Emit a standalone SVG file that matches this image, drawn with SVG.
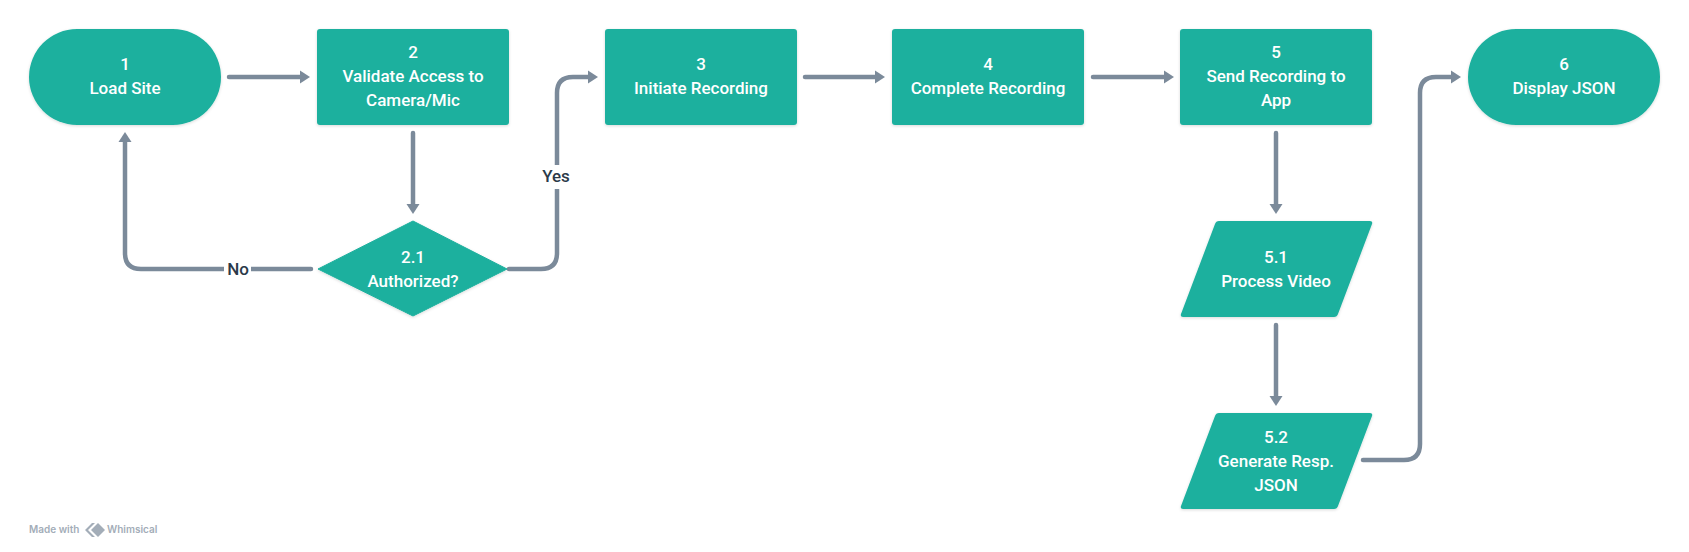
<svg xmlns="http://www.w3.org/2000/svg" width="1689" height="552" viewBox="0 0 1689 552">
<style>
.n{fill:#1cb09e;filter:url(#s)}
.t{font-family:Roboto,"Noto Sans",sans-serif;font-size:17px;font-weight:500;fill:#fff;text-anchor:middle}
.c{fill:none;stroke:#7b8a9a;stroke-width:4.500;stroke-linecap:round}
.a{fill:#7b8a9a}
.l{font-family:Roboto,"Noto Sans",sans-serif;font-size:17px;font-weight:500;fill:#2b3a4a;text-anchor:middle}
.w{font-family:Inter,"Liberation Sans",sans-serif;font-size:10px;font-weight:600;fill:#a3adb8}
</style>
<defs>
<filter id="s" x="-10%" y="-10%" width="120%" height="125%"><feDropShadow dx="0" dy="1" stdDeviation="1.5" flood-color="#000" flood-opacity="0.15"/></filter>
<marker id="h" markerUnits="userSpaceOnUse" markerWidth="12" markerHeight="14" refX="1" refY="7" orient="auto"><path d="M0 0.500L10 7L0 13.500Z" class="a"/></marker>
</defs>
<g id="connectors">
<path class="c" d="M229 77H301" marker-end="url(#h)"/>
<path class="c" d="M413 133V205" marker-end="url(#h)"/>
<path class="c" d="M311 269H141Q125 269 125 253V141" marker-end="url(#h)"/>
<path class="c" d="M509 269H541Q557 269 557 253V93Q557 77 573 77H589" marker-end="url(#h)"/>
<path class="c" d="M805 77H876" marker-end="url(#h)"/>
<path class="c" d="M1093 77H1165" marker-end="url(#h)"/>
<path class="c" d="M1276 133V205" marker-end="url(#h)"/>
<path class="c" d="M1276 325V397" marker-end="url(#h)"/>
<path class="c" d="M1363 460H1404Q1420 460 1420 444V93Q1420 77 1436 77H1452" marker-end="url(#h)"/>
<rect x="224" y="257" width="27" height="24" fill="#fff"/>
<text class="l" x="238" y="275">No</text>
<rect x="539" y="165" width="36" height="24" fill="#fff"/>
<text class="l" x="556" y="182">Yes</text>
</g>
<g id="n1"><rect class="n" x="29" y="29" width="192" height="96" rx="48"/><text class="t" x="125" y="70">1</text><text class="t" x="125" y="94">Load Site</text></g>
<g id="n2"><rect class="n" x="317" y="29" width="192" height="96" rx="3"/><text class="t" x="413" y="58">2</text><text class="t" x="413" y="82">Validate Access to</text><text class="t" x="413" y="106">Camera/Mic</text></g>
<g id="n21"><path class="n" d="M413 221L507 269L413 316L318 269Z" stroke="#1cb09e" stroke-width="1" stroke-linejoin="round"/><text class="t" x="413" y="263">2.1</text><text class="t" x="413" y="287">Authorized?</text></g>
<g id="n3"><rect class="n" x="605" y="29" width="192" height="96" rx="3"/><text class="t" x="701" y="70">3</text><text class="t" x="701" y="94">Initiate Recording</text></g>
<g id="n4"><rect class="n" x="892" y="29" width="192" height="96" rx="3"/><text class="t" x="988" y="70">4</text><text class="t" x="988" y="94">Complete Recording</text></g>
<g id="n5"><rect class="n" x="1180" y="29" width="192" height="96" rx="3"/><text class="t" x="1276" y="58">5</text><text class="t" x="1276" y="82">Send Recording to</text><text class="t" x="1276" y="106">App</text></g>
<g id="n51"><path class="n" d="M1219 221H1370Q1373 221 1372 224L1338 314Q1337 317 1334 317H1183Q1180 317 1181 314L1215 224Q1216 221 1219 221Z"/><text class="t" x="1276" y="263">5.1</text><text class="t" x="1276" y="287">Process Video</text></g>
<g id="n52"><path class="n" d="M1219 413H1370Q1373 413 1372 416L1338 506Q1337 509 1334 509H1183Q1180 509 1181 506L1215 416Q1216 413 1219 413Z"/><text class="t" x="1276" y="443">5.2</text><text class="t" x="1276" y="467">Generate Resp.</text><text class="t" x="1276" y="491">JSON</text></g>
<g id="n6"><rect class="n" x="1468" y="29" width="192" height="96" rx="48"/><text class="t" x="1564" y="70">6</text><text class="t" x="1564" y="94">Display JSON</text></g>
<g id="watermark"><text class="w" x="29" y="533">Made with</text><path d="M92 523L85 530L92 537L95 537L88 530L95 523Z" fill="#a3adb8"/><path d="M98 523L105 530L98 537L91 530Z" fill="#a3adb8"/><text class="w" x="107" y="533">Whimsical</text></g>
</svg>
